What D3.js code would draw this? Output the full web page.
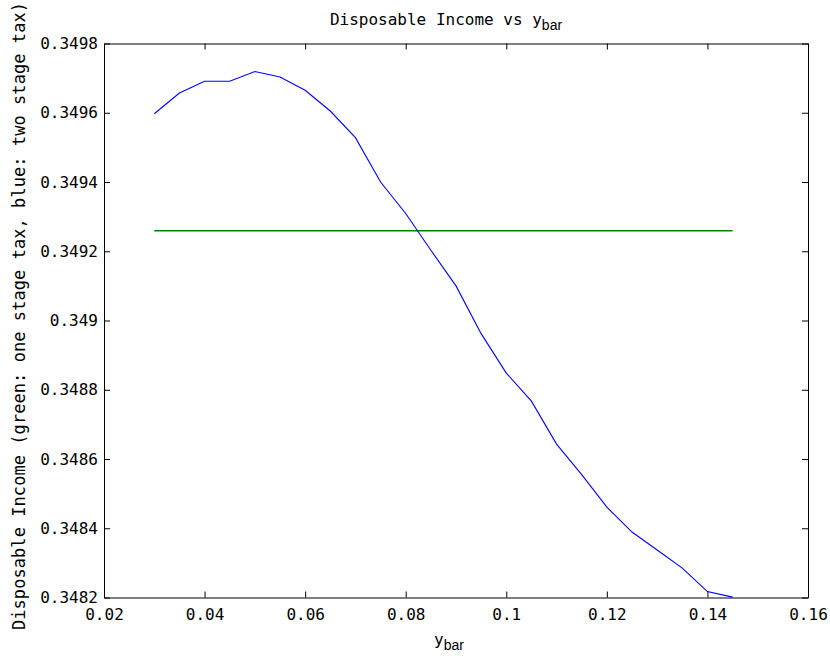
<!DOCTYPE html>
<html>
<head>
<meta charset="utf-8">
<script src="https://cdn.jsdelivr.net/npm/d3@7"></script>
<style>
  html, body { margin: 0; padding: 0; background: #fff; }
  text { font-family: "DejaVu Sans Mono", "Liberation Mono", monospace; fill: #000; }
</style>
</head>
<body>
<svg id="chart" width="830" height="662"></svg>
<script>
// ---- data ----
const yBar = [0.03, 0.035, 0.04, 0.045, 0.05, 0.055, 0.06, 0.065, 0.07, 0.075, 0.08, 0.085,
              0.09, 0.095, 0.1, 0.105, 0.11, 0.115, 0.12, 0.125, 0.13, 0.135, 0.14, 0.145];
const twoStage = [0.349597, 0.349657, 0.349691, 0.349691, 0.349719, 0.349703, 0.349665, 0.349605,
                  0.349528, 0.349400, 0.349309, 0.349203, 0.349100, 0.348962, 0.348848, 0.348767,
                  0.348643, 0.348555, 0.348461, 0.348389, 0.348337, 0.348285, 0.348217, 0.348201];
const oneStage = [0.349259, 0.349259];
const oneStageX = [0.03, 0.145];
const xTicks = [0.02, 0.04, 0.06, 0.08, 0.1, 0.12, 0.14, 0.16];
const xTickLabels = ["0.02", "0.04", "0.06", "0.08", "0.1", "0.12", "0.14", "0.16"];
const yTicks = [0.3482, 0.3484, 0.3486, 0.3488, 0.349, 0.3492, 0.3494, 0.3496, 0.3498];
const yTickLabels = ["0.3482", "0.3484", "0.3486", "0.3488", "0.349", "0.3492", "0.3494", "0.3496", "0.3498"];

// ---- layout ----
const L = 104, R = 808, T = 43.5, B = 597.5;
const svg = d3.select("#chart");
const x = d3.scaleLinear().domain([0.02, 0.16]).range([L, R]);
const y = d3.scaleLinear().domain([0.3482, 0.3498]).range([B, T]);

// lines
const line = d3.line().x(d => x(d[0])).y(d => y(d[1]));
svg.append("path")
  .datum(oneStageX.map((v, i) => [v, oneStage[i]]))
  .attr("d", line).attr("fill", "none").attr("stroke", "#008000").attr("stroke-width", 1.6);
svg.append("path")
  .datum(yBar.map((v, i) => [v, twoStage[i]]))
  .attr("d", line).attr("fill", "none").attr("stroke", "#0000ff").attr("stroke-width", 1.1);

// axes (inward ticks, box)
const tk = 6;
const gx = svg.append("g").attr("transform", `translate(0,${B})`)
  .call(d3.axisBottom(x).tickValues(xTicks).tickSizeInner(-tk).tickSizeOuter(0).tickPadding(12)
        .tickFormat((d, i) => xTickLabels[i]));
const gxt = svg.append("g").attr("transform", `translate(0,${T})`)
  .call(d3.axisTop(x).tickValues(xTicks).tickSizeInner(-tk).tickSizeOuter(0).tickFormat(""));
const gy = svg.append("g").attr("transform", `translate(${L},0)`)
  .call(d3.axisLeft(y).tickValues(yTicks).tickSizeInner(-tk).tickSizeOuter(0).tickPadding(12)
        .tickFormat((d, i) => yTickLabels[i]));
const gyr = svg.append("g").attr("transform", `translate(${R},0)`)
  .call(d3.axisRight(y).tickValues(yTicks).tickSizeInner(-tk).tickSizeOuter(0).tickFormat(""));
[gx, gxt, gy, gyr].forEach(g => {
  g.selectAll(".domain").attr("stroke", "#000");
  g.selectAll(".tick line").attr("stroke", "#000");
  g.selectAll("text").attr("font-size", 16).attr("font-family", "DejaVu Sans Mono");
});
gy.selectAll("text").attr("x", -6);
gx.selectAll("text").attr("dy", "0.75em").attr("y", 10);

// title
const title = svg.append("text").attr("x", 446).attr("y", 25).attr("text-anchor", "middle")
  .attr("font-size", 16);
title.append("tspan").text("Disposable Income vs y");
title.append("tspan").attr("dy", 5).attr("font-size", 14).attr("font-family", "Liberation Sans, Arial, sans-serif").text("bar");

// x label
const xl = svg.append("text").attr("x", 449).attr("y", 645).attr("text-anchor", "middle")
  .attr("font-size", 16);
xl.append("tspan").text("y");
xl.append("tspan").attr("dy", 5).attr("font-size", 14).attr("font-family", "Liberation Sans, Arial, sans-serif").text("bar");

// y label
svg.append("text").attr("transform", "translate(25,630) rotate(-90)")
  .attr("text-anchor", "start").attr("font-size", 17)
  .attr("textLength", 628).attr("lengthAdjust", "spacing")
  .text("Disposable Income (green: one stage tax, blue: two stage tax)");
</script>
</body>
</html>
